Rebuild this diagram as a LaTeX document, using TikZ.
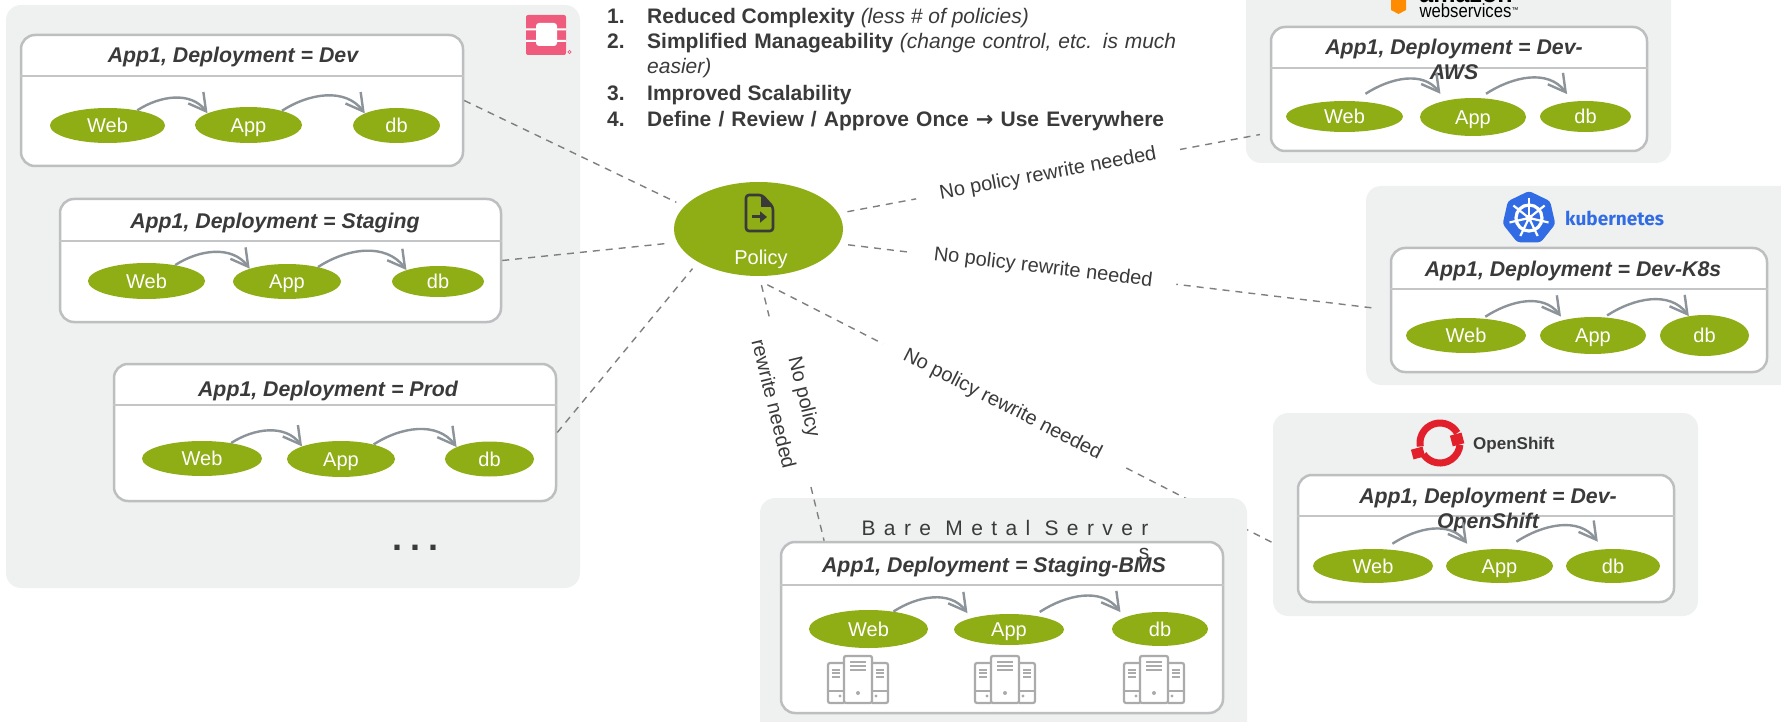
\documentclass[tikz,border=0pt]{standalone}
\usepackage{fontspec}
\setmainfont{Liberation Sans}
\newfontfamily\spacedfont[LetterSpace=40]{Liberation Sans}
\newfontfamily\kubefont{Fira Sans}
\newfontfamily\arrowfont{DejaVu Sans}
\usetikzlibrary{arrows.meta,shapes.geometric}
\definecolor{leaf}{HTML}{8FAD15}
\definecolor{panelgray}{HTML}{EFF1F1}
\definecolor{framegray}{HTML}{BCBEC0}
\definecolor{flowgray}{HTML}{8C9399}
\definecolor{linkgray}{HTML}{7F7F7F}
\definecolor{ink}{HTML}{3A3A3A}
\definecolor{rackgray}{HTML}{ABABAB}
\definecolor{kubeblue}{HTML}{326CE5}
\definecolor{shiftred}{HTML}{E2202B}
\definecolor{stackpink}{HTML}{EF5B7D}
\tikzset{
panel/.style={fill=panelgray,rounded corners=15pt},
appbox/.style={draw=framegray,line width=2.5pt,fill=white,rounded corners=14pt,inner sep=0pt},
boxrule/.style={draw=framegray!90,line width=1.8pt},
apptitle/.style={anchor=base,text=ink,font=\fontsize{21.3}{25}\selectfont\bfseries\itshape,inner sep=0pt,align=center},
tier/.style={ellipse,fill=leaf,text=white,inner sep=0pt,font=\fontsize{20}{24}\selectfont,text height=14.3pt,text depth=0pt},
flow/.style={draw=flowgray,line width=2.4pt,-{Straight Barb[length=17pt,width=19pt]},out=33,in=127},
link/.style={draw=linkgray,line width=1.4pt,dash pattern=on 7pt off 6pt},
rulelabel/.style={fill=white,text=ink,font=\fontsize{20}{24}\selectfont,sloped,inner xsep=24pt,inner ysep=3pt,align=center},
listline/.style={anchor=base west,text=ink,inner sep=0pt,font=\fontsize{21}{25}\selectfont},
rack/.pic={
\draw[draw=rackgray,line width=2.3pt,rounded corners=2pt] (-14,-24) rectangle (14,23);
\draw[draw=rackgray,line width=2.2pt,rounded corners=2pt] (-14,-17) -- (-30,-17) -- (-30,23) -- (-14,23);
\draw[draw=rackgray,line width=2.2pt,rounded corners=2pt] (14,-17) -- (30,-17) -- (30,23) -- (14,23);
\draw[draw=rackgray,line width=2pt] (-8,-18) -- (8,-18) (-8,-14) -- (8,-14) (-8,-10) -- (8,-10);
\draw[draw=rackgray,line width=1.4pt] (-26,-10) -- (-18,-10) (-26,-7) -- (-18,-7) (-26,-3) -- (-18,-3);
\draw[draw=rackgray,line width=1.4pt] (18,-10) -- (26,-10) (18,-7) -- (26,-7) (18,-3) -- (26,-3);
\draw[draw=rackgray,line width=1.2pt] (-30,11) -- (-14,11) (14,11) -- (30,11);
\fill[rackgray] (0,13) circle (2pt) (-18,16) circle (1.6pt) (18,16) circle (1.6pt);
}
}
\begin{document}
\begin{tikzpicture}[x=1pt,y=-1pt]
\useasboundingbox (0,0) rectangle (1781,722);
\clip (0,0) rectangle (1781,722);
\fill[panel] (6,5) rectangle (580,588);
\fill[panel] (1246,-30) rectangle (1671,163);
\fill[panel] (1366,186) rectangle (1800,385);
\fill[panel] (1273,413) rectangle (1698,616);
\fill[stackpink,rounded corners=2pt] (526,15) rectangle (566,55);
\fill[white,rounded corners=3pt] (536,23) rectangle (557,46);
\fill[white] (526,28.5) rectangle (566,30.5) (526,40) rectangle (566,42);
\draw[stackpink,line width=.6pt] (569.5,52) circle (1.6pt);
\node[apptitle,font=\fontsize{25}{25}\selectfont\bfseries,text=black] (awsName) at (1466,3) {amazon};
\node[apptitle,font=\fontsize{19}{19}\selectfont,text=black] (awsSub) at (1469,18) {\scalebox{.88}[1]{webservices}\raisebox{5pt}{\fontsize{7}{7}\selectfont™}};
\fill[orange!90!yellow] (1391,-2) -- (1406,-2) -- (1406,10) -- (1398.5,14) -- (1391,10) -- cycle;
\node[regular polygon,regular polygon sides=7,fill=kubeblue,minimum size=54pt,inner sep=0pt,rounded corners=3pt] (kubeLogo) at (1529,218) {};
\draw[white,line width=3.2pt] (kubeLogo.center) circle (13pt);
\foreach \a in {90,141.4,192.9,244.3,295.7,347.1,38.6}
\draw[white,line width=2.2pt] (kubeLogo.center) -- ++(\a:20pt);
\fill[white] (kubeLogo.center) circle (3.5pt);
\node[anchor=west,text=kubeblue,inner sep=0pt,font=\fontsize{19}{24}\selectfont\kubefont\bfseries] (kubeName) at (1565,218) {kubernetes};
\draw[shiftred,line width=7pt] (1440,443) ++(30:20pt) arc[start angle=30,end angle=190,radius=20pt];
\draw[shiftred,line width=7pt] (1440,443) ++(215:20pt) arc[start angle=215,end angle=355,radius=20pt];
\fill[shiftred,rotate around={15:(1457,439)}] (1451,434) rectangle (1463,445);
\fill[shiftred,rotate around={15:(1418,453)}] (1412,448) rectangle (1424,458);
\node[anchor=west,text=ink,inner sep=0pt,font=\fontsize{17}{20}\selectfont\bfseries] (shiftName) at (1473,445) {OpenShift};
\node[appbox,minimum width=442pt,minimum height=131pt] (boxDev) at (242,100.5) {};
\node[appbox,minimum width=441pt,minimum height=123pt] (boxStaging) at (280.5,260.5) {};
\node[appbox,minimum width=442pt,minimum height=137pt] (boxProd) at (335,432.5) {};
\node[appbox,minimum width=376pt,minimum height=124pt] (boxAws) at (1459,89) {};
\node[appbox,minimum width=376pt,minimum height=124pt] (boxKube) at (1579,310) {};
\node[appbox,minimum width=376pt,minimum height=127pt] (boxShift) at (1486,538.5) {};
\node[ellipse,fill=leaf,minimum width=169pt,minimum height=94pt,inner sep=0pt,outer sep=9pt] (policy) at (758.5,229) {};
\draw[link] (boxDev.east) -- (policy.162);
\draw[link] (boxStaging.east) -- (policy.189);
\draw[link] (boxProd.east) -- (policy.211);
\draw[link,shorten >=10pt] (policy.11) -- node[rulelabel,pos=.475] (ruleAws) {No policy rewrite needed} (boxAws.193);
\draw[link,shorten >=13pt] (policy.-10.6) -- node[rulelabel,pos=.36] (ruleKube) {No policy rewrite needed} (boxKube.west);
\draw[link,shorten >=26pt] (policy.279) -- node[rulelabel,pos=.444] (ruleShift) {No policy rewrite needed} (boxShift.185.6);
\fill[panel] (760,498) rectangle (1247,760);
\node[appbox,minimum width=442pt,minimum height=171pt] (boxMetal) at (1002,627.5) {};
\draw[link] (policy.273.5) -- node[rulelabel,pos=.45,inner xsep=20pt] (ruleMetal) {No policy\\[8pt]rewrite needed} (boxMetal.154);
\draw[boxrule] (boxDev.west |- 0,76) -- (boxDev.east |- 0,76);
\draw[boxrule] (boxStaging.west |- 0,241) -- (boxStaging.east |- 0,241);
\draw[boxrule] (boxProd.west |- 0,405) -- (boxProd.east |- 0,405);
\draw[boxrule] (boxAws.west |- 0,68) -- (boxAws.east |- 0,68);
\draw[boxrule] (boxKube.west |- 0,289) -- (boxKube.east |- 0,289);
\draw[boxrule] (boxShift.west |- 0,516) -- (boxShift.east |- 0,516);
\draw[boxrule] (boxMetal.west |- 0,585) -- (boxMetal.east |- 0,585);
\node[apptitle] (titleDev) at (233,63) {App1, Deployment = Dev};
\node[apptitle] (titleStaging) at (275,228.3) {App1, Deployment = Staging};
\node[apptitle] (titleProd) at (328,396) {App1, Deployment = Prod};
\node[apptitle,anchor=center] (titleAws) at (1454,59) {App1, Deployment = Dev-\\AWS};
\node[apptitle] (titleKube) at (1573,276.7) {App1, Deployment = Dev-K8s};
\node[apptitle,anchor=center] (titleShift) at (1488,510) {App1, Deployment = Dev-\\OpenShift};
\node[apptitle] (titleMetal) at (994,572.3) {App1, Deployment = Staging-BMS};
\node[text=ink,inner sep=0pt,font=\fontsize{21}{25}\selectfont\spacedfont] (metalName) at (1005,528) {Bare Metal Server};
\node[text=ink,inner sep=0pt,font=\fontsize{21}{25}\selectfont\spacedfont] (metalTail) at (1144,554) {s};
\node[tier,minimum width=115pt,minimum height=35pt] (webDev) at (107.5,125.5) {Web};
\node[tier,minimum width=107pt,minimum height=36pt] (appDev) at (248.5,125) {App};
\node[tier,minimum width=87pt,minimum height=35pt] (dbDev) at (396.5,125.5) {db};
\draw[flow] (webDev.27) to (appDev.164);
\draw[flow] (appDev.23) to (dbDev.159);
\node[tier,minimum width=117pt,minimum height=36pt] (webStaging) at (146.5,281) {Web};
\node[tier,minimum width=108pt,minimum height=35pt] (appStaging) at (287,281.5) {App};
\node[tier,minimum width=92pt,minimum height=31pt] (dbStaging) at (438,281.5) {db};
\draw[flow] (webStaging.29) to (appStaging.161);
\draw[flow] (appStaging.25) to (dbStaging.160);
\node[tier,minimum width=120pt,minimum height=35pt] (webProd) at (202,458.5) {Web};
\node[tier,minimum width=108pt,minimum height=36pt] (appProd) at (341,459) {App};
\node[tier,minimum width=89pt,minimum height=35pt] (dbProd) at (489.5,459) {db};
\draw[flow] (webProd.28) to (appProd.162);
\draw[flow] (appProd.24) to (dbProd.160);
\node[tier,minimum width=117pt,minimum height=31pt] (webAws) at (1344.5,116.5) {Web};
\node[tier,minimum width=106pt,minimum height=38pt] (appAws) at (1473,117) {App};
\node[tier,minimum width=91pt,minimum height=31pt] (dbAws) at (1585.5,116.5) {db};
\draw[flow] ([yshift=8pt]webAws.35) to ([yshift=8pt]appAws.155);
\draw[flow] ([yshift=4.6pt]appAws.55) to ([yshift=8pt]dbAws.142);
\node[tier,minimum width=120pt,minimum height=35pt] (webKube) at (1466,335.5) {Web};
\node[tier,minimum width=106pt,minimum height=37pt] (appKube) at (1593,335.5) {App};
\node[tier,minimum width=89pt,minimum height=41pt] (dbKube) at (1704.5,335.5) {db};
\draw[flow] ([yshift=2pt]webKube.41) to ([yshift=4pt]appKube.155);
\draw[flow] ([yshift=2pt]appKube.52) to (dbKube.129);
\node[tier,minimum width=120pt,minimum height=34pt] (webShift) at (1373,566) {Web};
\node[tier,minimum width=107pt,minimum height=34pt] (appShift) at (1499.5,566) {App};
\node[tier,minimum width=94pt,minimum height=34pt] (dbShift) at (1613,566) {db};
\draw[flow] ([yshift=6pt]webShift.40) to ([yshift=8.5pt]appShift.157);
\draw[flow] ([yshift=8pt]appShift.44.5) to ([yshift=8pt]dbShift.133);
\node[tier,minimum width=119pt,minimum height=38pt] (webMetal) at (868.5,629) {Web};
\node[tier,minimum width=110pt,minimum height=31pt] (appMetal) at (1009,629.5) {App};
\node[tier,minimum width=96pt,minimum height=34pt] (dbMetal) at (1160,629) {db};
\draw[flow] (webMetal.35) to ([yshift=6pt]appMetal.166);
\draw[flow] ([yshift=4.5pt]appMetal.23) to ([yshift=7pt]dbMetal.166);
\pic (rackWeb) at (858,680) {rack};
\pic (rackApp) at (1005,680) {rack};
\pic (rackDb) at (1154,680) {rack};
\node[anchor=base,text=ink,inner sep=0pt,font=\fontsize{36}{40}\selectfont\bfseries] (moreDots) at (415,550.5) {.\kern8pt.\kern8pt.};
\node[text=white,inner sep=0pt,font=\fontsize{20}{24}\selectfont] (policyName) at (761,259) {Policy};
\draw[ink,line width=2.6pt,rounded corners=3pt] (746,195) -- (762,195) -- (773,207) -- (773,231) -- (746,231) -- cycle;
\fill[ink] (761,195) -- (773,207) -- (761,207) -- cycle;
\draw[ink,line width=3pt,-{Triangle[length=7pt,width=11pt]}] (752,217) -- (767,217);
\node[listline] (numA) at (607,23.3) {\textbf{1.}};
\node[listline] (numB) at (607,48.3) {\textbf{2.}};
\node[listline] (numC) at (607,100.5) {\textbf{3.}};
\node[listline] (numD) at (607,127) {\textbf{4.}};
\node[listline] (noteA) at (647,23.3) {\textbf{Reduced Complexity} \textit{(less \# of policies)}};
\node[listline] (noteB) at (647,48.3) {\makebox[529pt][s]{\textbf{Simplified Manageability} \textit{(change control, etc. is much}}};
\node[listline] (noteBB) at (647,74) {\textit{easier)}};
\node[listline] (noteC) at (647,100.5) {\textbf{Improved Scalability}};
\node[listline] (noteD) at (647,127) {\makebox[517pt][s]{\textbf{Define / Review / Approve Once {\arrowfont\bfseries →} Use Everywhere}}};
\end{tikzpicture}
\end{document}
